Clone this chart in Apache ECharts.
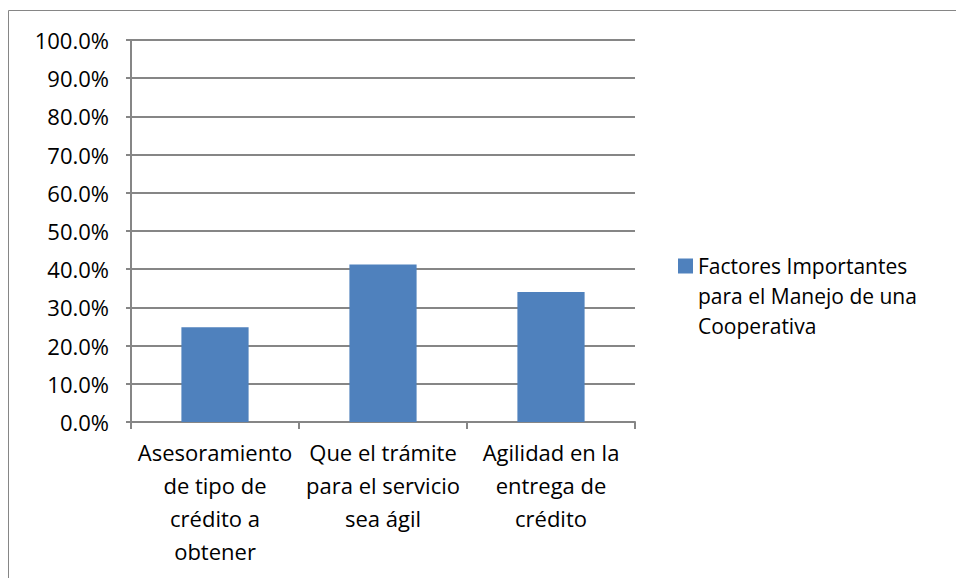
<!DOCTYPE html>
<html>
<head>
    <meta charset="utf-8">
    <title>ECharts</title>
    <script src="https://cdn.jsdelivr.net/npm/echarts@6/dist/echarts.min.js"></script>
</head>
<body style="margin:0;">
<div id="main" style="width: 956px;height:578px;"></div>
<script type="text/javascript">
    // datos
    var categories = ['Asesoramiento\nde tipo de\ncrédito a\nobtener', 'Que el trámite\npara el servicio\nsea ágil', 'Agilidad en la\nentrega de\ncrédito'];
    var values = [24.8, 41.2, 34.0];
    var seriesName = 'Factores Importantes\npara el Manejo de una\nCooperativa';

    var myChart = echarts.init(document.getElementById('main'), null, {renderer: 'svg'});
    var font = '"Open Sans", sans-serif';
    var option = {
        backgroundColor: '#fff',
        graphic: [{
            type: 'rect',
            shape: {x: 8.5, y: 10.5, width: 960, height: 600},
            style: {fill: 'none', stroke: '#868686', lineWidth: 1},
            silent: true
        }],
        legend: {
            data: [seriesName],
            left: 673,
            top: 186,
            orient: 'vertical',
            itemWidth: 15,
            itemHeight: 15,
            itemGap: 0,
            icon: 'rect',
            // dos líneas vacías arriba para que el icono quede junto a la primera línea
            formatter: function (name) { return ' \n \n' + name; },
            textStyle: {fontFamily: font, fontSize: 21, color: '#000', lineHeight: 30}
        },
        grid: {left: 131, right: 321, top: 40, bottom: 156},
        xAxis: {
            type: 'category',
            data: categories,
            axisLine: {lineStyle: {color: '#868686', width: 2}},
            axisTick: {show: true, length: 7, lineStyle: {color: '#868686', width: 2}},
            axisLabel: {fontFamily: font, fontSize: 22, color: '#000', lineHeight: 33, margin: 13, interval: 0}
        },
        yAxis: {
            type: 'value',
            min: 0,
            max: 100,
            interval: 10,
            axisLine: {show: true, lineStyle: {color: '#868686', width: 2}},
            axisTick: {show: true, length: 5, lineStyle: {color: '#868686', width: 2}},
            splitLine: {lineStyle: {color: '#868686', width: 2}},
            axisLabel: {
                fontFamily: font, fontSize: 22, color: '#000', margin: 22,
                formatter: function (v) { return v.toFixed(1) + '%'; }
            }
        },
        series: [{
            name: seriesName,
            type: 'bar',
            data: values,
            barWidth: '40%',
            itemStyle: {color: '#4f81bd'}
        }]
    };
    myChart.setOption(option);
</script>
</body>
</html>
